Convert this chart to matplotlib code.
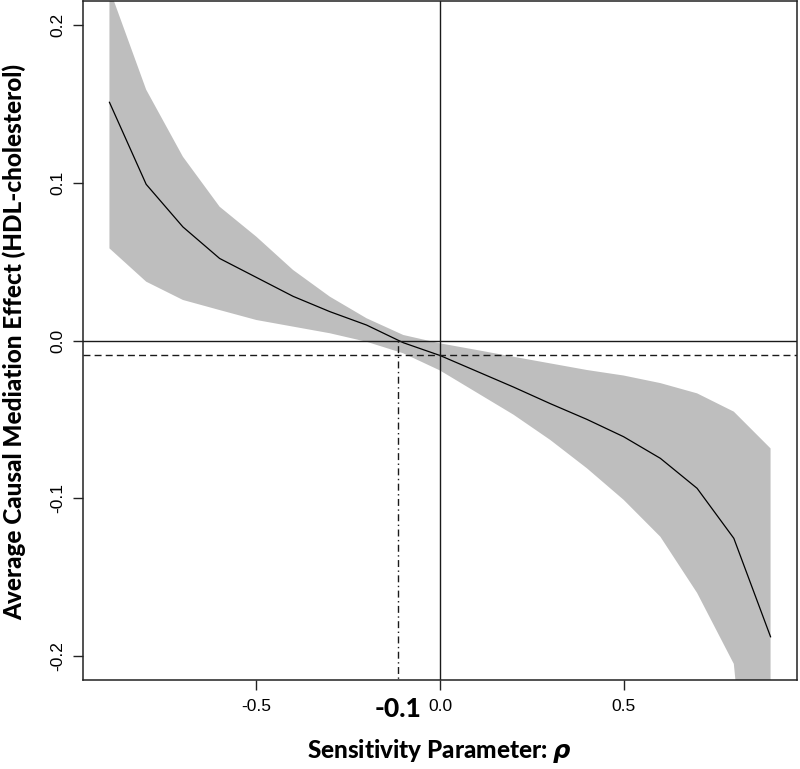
import matplotlib
matplotlib.use("Agg")
import matplotlib.pyplot as plt

# sensitivity analysis: ACME as a function of rho
rho = [-0.9, -0.8, -0.7, -0.6, -0.5, -0.4, -0.3, -0.2, -0.1, 0.0,
       0.1, 0.2, 0.3, 0.4, 0.5, 0.6, 0.7, 0.8, 0.9]
acme = [0.151, 0.099, 0.072, 0.052, 0.040, 0.028, 0.0183, 0.0098, -0.0014, -0.0095,
        -0.0195, -0.0295, -0.040, -0.050, -0.061, -0.0747, -0.0937, -0.1254, -0.1878]
ci_upper = [0.223, 0.159, 0.1165, 0.0848, 0.0658, 0.0447, 0.0278, 0.0141, 0.0035, -0.0018,
            -0.0060, -0.0103, -0.0145, -0.0187, -0.0222, -0.027, -0.0335, -0.0451, -0.0684]
ci_lower = [0.0584, 0.0373, 0.0257, 0.0193, 0.013, 0.0088, 0.0046, -0.0008, -0.0081, -0.019,
            -0.0330, -0.047, -0.063, -0.081, -0.101, -0.1244, -0.160, -0.205, -0.44]

acme_at_zero = -0.0095   # estimate at rho = 0 (dashed line)
rho_zero = -0.114        # rho where ACME crosses zero
rho_zero_label = "-0.1"

xticks = [-0.5, 0.0, 0.5]
xtick_labels = ["-0.5", "0.0", "0.5"]
yticks = [-0.2, -0.1, 0.0, 0.1, 0.2]
ytick_labels = ["-0.2", "-0.1", "0.0", "0.1", "0.2"]

plt.rcParams['mathtext.fontset'] = 'custom'
plt.rcParams['mathtext.it'] = 'DejaVu Sans:italic:bold'
plt.rcParams['mathtext.rm'] = 'DejaVu Sans:bold'

W, H = 800, 769
fig = plt.figure(figsize=(W / 100, H / 100), dpi=100)
ax = fig.add_axes([83 / W, (H - 680) / H, (797 - 83) / W, (680 - 1) / H])

ax.fill_between(rho, ci_lower, ci_upper, color='#bebebe', linewidth=0)
ax.plot(rho, acme, color='black', lw=0.9)

ax.axhline(0, color='#1a1a1a', lw=1.0)
ax.axvline(0, color='#1a1a1a', lw=1.0)
ax.axhline(acme_at_zero, color='#1a1a1a', lw=1.0, dashes=(5, 3))
ax.plot([rho_zero, rho_zero], [-1, 0], color='#1a1a1a', lw=1.0,
        dashes=(1, 2.5, 5, 2.5))

ax.set_xlim(-0.972, 0.972)
ax.set_ylim(-0.2152, 0.2152)

ax.set_xticks(xticks)
ax.set_xticklabels(xtick_labels, family='Liberation Sans', fontsize=12.5)
ax.set_yticks(yticks)
ax.set_yticklabels(ytick_labels, family='Liberation Sans', fontsize=12.5,
                   rotation=90, va='center')
ax.tick_params(axis='x', length=7, width=1.0, pad=7, color='#222222')
ax.tick_params(axis='y', length=7, width=1.0, pad=6, color='#222222')
for sp in ax.spines.values():
    sp.set_color('#222222')
    sp.set_linewidth(1.1)

# bold annotation of the crossing point under the axis
ax.annotate(rho_zero_label, xy=(rho_zero, 0), xycoords=('data', 'axes fraction'),
            xytext=(0, -21), textcoords='offset points', ha='center', va='center',
            family='Lato', fontweight='black', fontsize=19)

fig.text(439 / W, 1 - 758 / H, r"Sensitivity Parameter: $\rho$", ha='center',
         va='baseline', family='Lato', fontweight='black', fontsize=17.5)
fig.text(14 / W, 1 - 342 / H, "Average Causal Mediation Effect (HDL-cholesterol)",
         rotation=90, ha='center', va='center', family='Lato', fontweight='black',
         fontsize=17.5)

fig.savefig("out.png", dpi=100)
